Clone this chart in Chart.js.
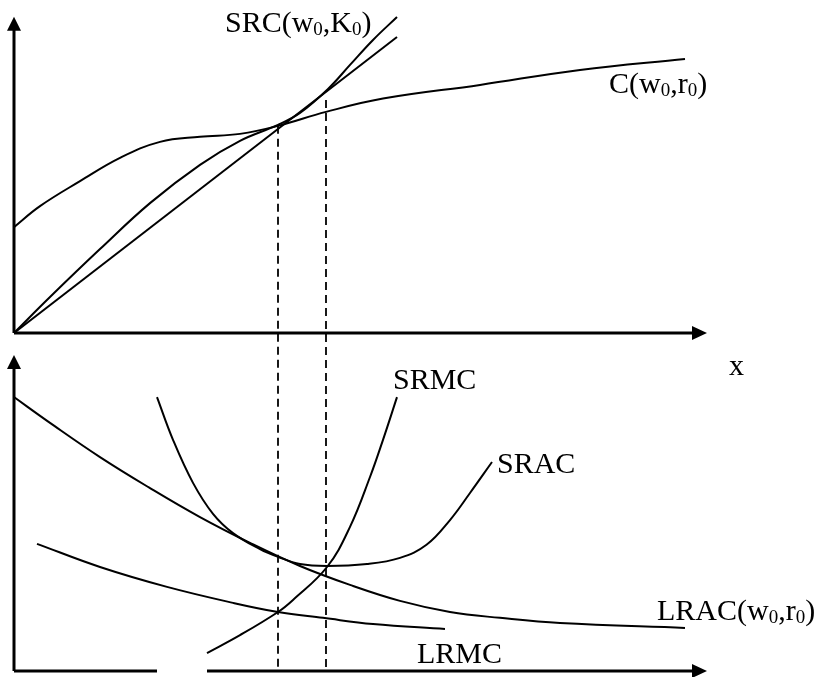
<!DOCTYPE html>
<html>
<head>
<meta charset="utf-8">
<script src="https://cdn.jsdelivr.net/npm/chart.js@4/dist/chart.umd.min.js"></script>
<style>
  body { margin: 0; background: #fff; }
  canvas { display: block; }
</style>
</head>
<body>
<canvas id="myChart" width="827" height="677"></canvas>
<script>
// top panel: total cost curves (quantity x, cost on yTop)
var costX = [0, 0.52, 1.32, 2.12, 2.92, 3.72, 4.52, 5.28, 6.24, 7.38, 9.32, 11.32, 13.42];
var costY = [3.18, 3.81, 4.56, 5.26, 5.74, 5.89, 5.98, 6.22, 6.64, 7.04, 7.45, 7.90, 8.23];

var srcX = [0, 0.72, 1.72, 2.72, 3.72, 4.52, 5.28, 5.72, 6.28, 6.72, 7.18, 7.66];
var srcY = [0, 1.08, 2.52, 3.90, 5.05, 5.77, 6.25, 6.61, 7.33, 8.05, 8.80, 9.49];

var rayX = [0, 7.66];
var rayY = [0, 8.89];

// bottom panel: average and marginal costs (yBot)
var lracX = [0, 0.72, 1.72, 2.72, 3.72, 4.72, 5.72, 6.72, 7.72, 8.72, 9.72, 10.92, 13.42];
var lracY = [8.40, 7.61, 6.56, 5.61, 4.72, 3.93, 3.22, 2.64, 2.15, 1.81, 1.63, 1.47, 1.32];

var sracX = [2.86, 3.18, 3.58, 3.98, 4.38, 4.92, 5.28, 5.72, 6.26, 7.06, 7.72, 8.25, 8.72, 9.12, 9.56];
var sracY = [8.40, 7.09, 5.77, 4.82, 4.23, 3.74, 3.50, 3.28, 3.22, 3.28, 3.47, 3.87, 4.63, 5.46, 6.41];

var srmcX = [3.86, 4.52, 5.28, 5.58, 6.26, 6.72, 7.12, 7.38, 7.66];
var srmcY = [0.55, 1.10, 1.81, 2.18, 3.19, 4.42, 5.95, 7.09, 8.40];

var lrmcX = [0.46, 1.72, 3.06, 4.38, 5.28, 6.18, 7.18, 8.62];
var lrmcY = [3.90, 3.19, 2.58, 2.09, 1.81, 1.63, 1.44, 1.29];

// dashed guides: quantities and where they start on the top panel
var guideX = [5.28, 6.24];
var guideTop = [6.22, 7.0];

var TOP_MIN = -10.15, TOP_MAX = 10;
var BOT_MIN = 0, BOT_MAX = 20.58;

function pts(xs, ys) {
  return xs.map(function (x, i) { return { x: x, y: ys[i] }; });
}

function curve(xs, ys, axis) {
  return {
    data: pts(xs, ys),
    yAxisID: axis,
    showLine: true,
    borderColor: '#000',
    borderWidth: 2,
    pointRadius: 0,
    tension: 0.4
  };
}

var datasets = [
  curve(costX, costY, 'yTop'),
  curve(srcX, srcY, 'yTop'),
  Object.assign(curve(rayX, rayY, 'yTop'), { tension: 0 }),
  curve(lracX, lracY, 'yBot'),
  curve(sracX, sracY, 'yBot'),
  curve(srmcX, srmcY, 'yBot'),
  curve(lrmcX, lrmcY, 'yBot')
];
guideX.forEach(function (gx, i) {
  datasets.push({
    data: [{ x: gx, y: guideTop[i] }, { x: gx, y: TOP_MIN }],
    yAxisID: 'yTop',
    showLine: true,
    borderColor: '#000',
    borderWidth: 1.8,
    borderDash: [8, 5],
    pointRadius: 0,
    tension: 0
  });
});

var labels = [
  { axis: 'yTop', x: 4.22, y: 9.04, parts: [['SRC(w'], ['0', 1], [',K'], ['0', 1], [')']] },
  { axis: 'yTop', x: 11.9, y: 7.21, parts: [['C(w'], ['0', 1], [',r'], ['0', 1], [')']] },
  { axis: 'yTop', x: 14.3, y: -1.26, parts: [['x']] },
  { axis: 'yBot', x: 7.58, y: 8.65, parts: [['SRMC']] },
  { axis: 'yBot', x: 9.66, y: 6.07, parts: [['SRAC']] },
  { axis: 'yBot', x: 12.86, y: 1.56, parts: [['LRAC(w'], ['0', 1], [',r'], ['0', 1], [')']] },
  { axis: 'yBot', x: 8.06, y: 0.25, parts: [['LRMC']] }
];

function arrow(ctx, x, y, dir) {
  ctx.beginPath();
  if (dir === 'up') {
    ctx.moveTo(x, y); ctx.lineTo(x - 7, y + 14); ctx.lineTo(x + 7, y + 14);
  } else {
    ctx.moveTo(x, y); ctx.lineTo(x - 15, y - 7); ctx.lineTo(x - 15, y + 7);
  }
  ctx.closePath();
  ctx.fill();
}

var axesPlugin = {
  id: 'axes',
  afterDatasetsDraw: function (chart) {
    var ctx = chart.ctx;
    var sx = chart.scales.x, st = chart.scales.yTop, sb = chart.scales.yBot;
    var x0 = sx.getPixelForValue(0);
    var xEnd = sx.getPixelForValue(13.86);
    var yT0 = st.getPixelForValue(0);
    var yB0 = sb.getPixelForValue(0);
    ctx.save();
    ctx.strokeStyle = '#000';
    ctx.fillStyle = '#000';
    ctx.lineWidth = 3;
    ctx.beginPath();
    // top panel axes
    ctx.moveTo(x0, yT0); ctx.lineTo(x0, st.getPixelForValue(9.5) + 12);
    ctx.moveTo(x0, yT0); ctx.lineTo(xEnd - 12, yT0);
    // bottom panel axes (horizontal one has a small gap)
    ctx.moveTo(x0, yB0); ctx.lineTo(x0, sb.getPixelForValue(9.69) + 12);
    ctx.moveTo(x0, yB0); ctx.lineTo(sx.getPixelForValue(2.86), yB0);
    ctx.moveTo(sx.getPixelForValue(3.86), yB0); ctx.lineTo(xEnd - 12, yB0);
    ctx.stroke();
    arrow(ctx, x0, st.getPixelForValue(9.5), 'up');
    arrow(ctx, xEnd, yT0, 'right');
    arrow(ctx, x0, sb.getPixelForValue(9.69), 'up');
    arrow(ctx, xEnd, yB0, 'right');

    // labels
    ctx.textBaseline = 'alphabetic';
    ctx.textAlign = 'left';
    labels.forEach(function (lb) {
      var px = sx.getPixelForValue(lb.x);
      var py = chart.scales[lb.axis].getPixelForValue(lb.y);
      lb.parts.forEach(function (p) {
        var sub = p[1] === 1;
        ctx.font = sub ? '19px "Liberation Serif"' : '30px "Liberation Serif"';
        ctx.fillText(p[0], px, py + (sub ? 3 : 0));
        px += ctx.measureText(p[0]).width;
      });
    });
    ctx.restore();
  }
};

var ctx = document.getElementById('myChart').getContext('2d');
var myChart = new Chart(ctx, {
  type: 'scatter',
  data: { datasets: datasets },
  options: {
    responsive: false,
    animation: false,
    layout: { padding: { left: 14, right: 113, top: 0, bottom: 6 } },
    scales: {
      x: { type: 'linear', min: 0, max: 14, display: false },
      yTop: { type: 'linear', min: TOP_MIN, max: TOP_MAX, display: false },
      yBot: { type: 'linear', min: BOT_MIN, max: BOT_MAX, display: false }
    },
    plugins: {
      legend: { display: false },
      tooltip: { enabled: false }
    }
  },
  plugins: [axesPlugin]
});
</script>
</body>
</html>
